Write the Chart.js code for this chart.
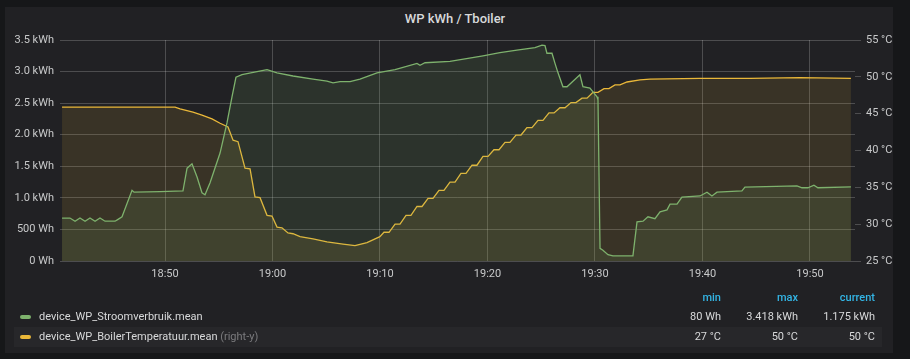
<!DOCTYPE html>
<html>
<head>
<meta charset="utf-8">
<script src="https://cdn.jsdelivr.net/npm/chart.js@4"></script>
<style>
  html, body { margin: 0; padding: 0; background: #161719; }
  body { width: 910px; height: 359px; position: relative; overflow: hidden; font-family: Roboto, sans-serif; }
  #panel { position: absolute; left: 5px; top: 7px; width: 888px; height: 346px; background: #212124; }
  #title { position: absolute; left: 0; width: 910px; top: 11px; text-align: center; color: #d8d9da; font-size: 13px; font-weight: 500; }
  #chart { position: absolute; left: 0; top: 0; }
  .row { position: absolute; left: 14px; width: 868px; height: 20px; font-size: 11px; color: #d8d9da; }
  .row.alt { background: #27272a; }
  .sw { position: absolute; left: 6px; top: 8px; width: 11px; height: 4px; border-radius: 2px; }
  .name { position: absolute; left: 25px; top: 3px; white-space: nowrap; }
  .name span { color: #7b7b7e; }
  .c { position: absolute; top: 3px; text-align: right; width: 80px; white-space: nowrap; }
  .hdr { color: #33b5e5; font-weight: 500; }
</style>
</head>
<body>
<div id="panel"></div>
<div id="title">WP kWh / Tboiler</div>
<canvas id="chart" width="910" height="359"></canvas>
<div id="legend"></div>
<script>
// time in minutes after 18:40
const powerTimes = [0.42, 1.16, 1.63, 2.09, 2.56, 3.02, 3.49, 3.95, 4.42, 5.35, 5.63, 6.0, 6.93, 7.12, 9.53, 11.67,
  12.05, 12.51, 12.98, 13.44, 13.72, 14.19, 15.12, 15.77, 16.23, 16.6, 17.16, 18.56, 19.49, 20.42, 21.91,
  23.77, 25.07, 25.63, 26.28, 27.21, 28.14, 29.72, 31.4, 33.44, 33.72, 34.19, 36.51, 39.58, 41.16, 42.74,
  44.42, 45.07, 45.35, 45.53, 46.0, 46.28, 46.56, 47.02, 47.4, 48.6, 48.88, 49.53, 50.19, 50.28, 50.47,
  50.74, 51.21, 51.67, 53.53, 53.91, 54.47, 54.93, 55.58, 56.05, 56.7, 56.98, 57.63, 58.09, 59.77, 60.42,
  60.88, 61.35, 63.67, 63.95, 68.79, 69.26, 69.81, 70.37, 70.74, 73.81];
const powerKwh = [0.68, 0.68, 0.63, 0.68, 0.63, 0.68, 0.63, 0.68, 0.63, 0.63, 0.66, 0.70, 1.12, 1.09, 1.10, 1.11,
  1.47, 1.54, 1.33, 1.08, 1.05, 1.24, 1.71, 2.19, 2.60, 2.91, 2.95, 3.00, 3.03, 2.98, 2.93,
  2.88, 2.85, 2.82, 2.84, 2.84, 2.88, 2.98, 3.03, 3.13, 3.10, 3.14, 3.16, 3.25, 3.30, 3.34,
  3.38, 3.418, 3.41, 3.29, 3.29, 3.13, 2.98, 2.76, 2.76, 2.95, 2.76, 2.74, 2.60, 2.55, 0.20,
  0.17, 0.10, 0.08, 0.08, 0.62, 0.63, 0.70, 0.67, 0.78, 0.81, 0.90, 0.90, 1.01, 1.03, 1.09,
  1.03, 1.09, 1.11, 1.17, 1.19, 1.16, 1.16, 1.20, 1.16, 1.175];

const boilerTimes = [0.42, 10.93, 11.4, 12.6, 13.44, 14.37, 15.12, 15.86, 16.33, 16.79, 17.44, 17.91, 18.37, 18.84,
  19.49, 19.95, 20.42, 20.88, 21.44, 21.91, 22.56, 23.77, 25.07, 26.56, 27.67, 28.79, 29.99,
  30.37, 30.84, 31.4, 31.86, 32.42, 32.88, 33.44, 33.91, 34.47, 34.93, 35.49, 35.95, 36.51, 36.98,
  37.53, 38.0, 38.56, 39.02, 39.58, 40.05, 40.6, 41.07, 41.63, 42.09, 42.65, 43.12, 43.67, 44.14,
  44.7, 45.16, 45.72, 46.19, 46.74, 47.21, 47.77, 48.23, 48.79, 49.26, 49.81, 50.28, 50.84, 51.3,
  51.86, 52.33, 52.98, 54.19, 55.12, 59.77, 64.42, 69.07, 73.81];
const boilerTemp = [45.9, 45.9, 45.65, 45.2, 44.8, 44.3, 43.7, 43.2, 41.4, 41.2, 37.6, 37.5, 33.7, 33.6,
  31.2, 31.1, 29.6, 29.5, 28.8, 28.7, 28.3, 28.0, 27.6, 27.3, 27.1, 27.5, 28.3,
  28.9, 28.9, 30.0, 30.0, 31.2, 31.2, 32.4, 32.4, 33.5, 33.5, 34.6, 34.6, 35.7, 35.7,
  36.9, 36.9, 38.0, 38.0, 39.2, 39.2, 40.1, 40.1, 41.1, 41.1, 42.1, 42.1, 43.1, 43.1,
  44.1, 44.1, 45.1, 45.1, 45.8, 45.8, 46.5, 46.5, 47.1, 47.1, 47.9, 47.9, 48.4, 48.4,
  48.9, 48.9, 49.3, 49.6, 49.7, 49.8, 49.8, 49.9, 49.8];

const tickMinutes = [10, 20, 30, 40, 50, 60, 70];
const tickLabels = ['18:50', '19:00', '19:10', '19:20', '19:30', '19:40', '19:50'];

const seriesNames = ['device_WP_Stroomverbruik.mean', 'device_WP_BoilerTemperatuur.mean'];
const seriesColors = ['#7eb26d', '#eab839'];
const statMin = ['80 Wh', '27 °C'];
const statMax = ['3.418 kWh', '50 °C'];
const statCurrent = ['1.175 kWh', '50 °C'];

const grid = 'rgba(255,255,255,0.2)';
const tickFont = { family: 'Roboto', size: 11 };

new Chart(document.getElementById('chart'), {
  type: 'line',
  data: {
    datasets: [
      {
        label: seriesNames[0],
        data: powerTimes.map((t, i) => ({ x: t, y: powerKwh[i] })),
        borderColor: seriesColors[0],
        backgroundColor: 'rgba(126,178,109,0.12)',
        borderWidth: 1.3,
        pointRadius: 0,
        fill: 'start',
        yAxisID: 'y'
      },
      {
        label: seriesNames[1],
        data: boilerTimes.map((t, i) => ({ x: t, y: boilerTemp[i] })),
        borderColor: seriesColors[1],
        backgroundColor: 'rgba(234,184,57,0.12)',
        borderWidth: 1.3,
        pointRadius: 0,
        fill: 'start',
        yAxisID: 'y1'
      }
    ]
  },
  options: {
    responsive: false,
    animation: false,
    layout: { padding: { left: 0, right: 0, top: 40, bottom: 78 } },
    plugins: { legend: { display: false }, tooltip: { enabled: false } },
    scales: {
      x: {
        type: 'linear',
        min: 0.23,
        max: 74.19,
        afterBuildTicks: s => { s.ticks = tickMinutes.map(v => ({ value: v })); },
        afterFit: s => { s.height = 20; },
        grid: { color: grid, drawTicks: false },
        border: { display: false },
        ticks: {
          color: '#c8c9ca', font: tickFont, padding: 7, maxRotation: 0,
          callback: v => tickLabels[tickMinutes.indexOf(v)]
        }
      },
      y: {
        position: 'left',
        min: 0,
        max: 3.5,
        afterFit: s => { s.width = 60; },
        grid: { color: grid, drawTicks: false },
        border: { display: false },
        ticks: {
          stepSize: 0.5, color: '#c8c9ca', font: tickFont, padding: 6,
          callback: v => v === 0 ? '0 Wh' : v === 0.5 ? '500 Wh' : v.toFixed(1) + ' kWh'
        }
      },
      y1: {
        position: 'right',
        min: 25,
        max: 55,
        afterFit: s => { s.width = 55; },
        grid: { color: grid, drawOnChartArea: false, drawTicks: true, tickLength: 6 },
        border: { display: false },
        ticks: {
          stepSize: 5, color: '#c8c9ca', font: tickFont, padding: 5,
          callback: v => v + ' °C'
        }
      }
    }
  }
});

// legend table
const legend = document.getElementById('legend');
let html = '<div class="row" style="top:288px">' +
  '<div class="c hdr" style="left:627px">min</div>' +
  '<div class="c hdr" style="left:704px">max</div>' +
  '<div class="c hdr" style="left:781px">current</div></div>';
seriesNames.forEach((n, i) => {
  html += '<div class="row' + (i === 1 ? ' alt' : '') + '" style="top:' + (307 + i * 20) + 'px">' +
    '<div class="sw" style="background:' + seriesColors[i] + '"></div>' +
    '<div class="name">' + n + (i === 1 ? ' <span>(right-y)</span>' : '') + '</div>' +
    '<div class="c" style="left:627px">' + statMin[i] + '</div>' +
    '<div class="c" style="left:704px">' + statMax[i] + '</div>' +
    '<div class="c" style="left:781px">' + statCurrent[i] + '</div></div>';
});
legend.innerHTML = html;
</script>
</body>
</html>
